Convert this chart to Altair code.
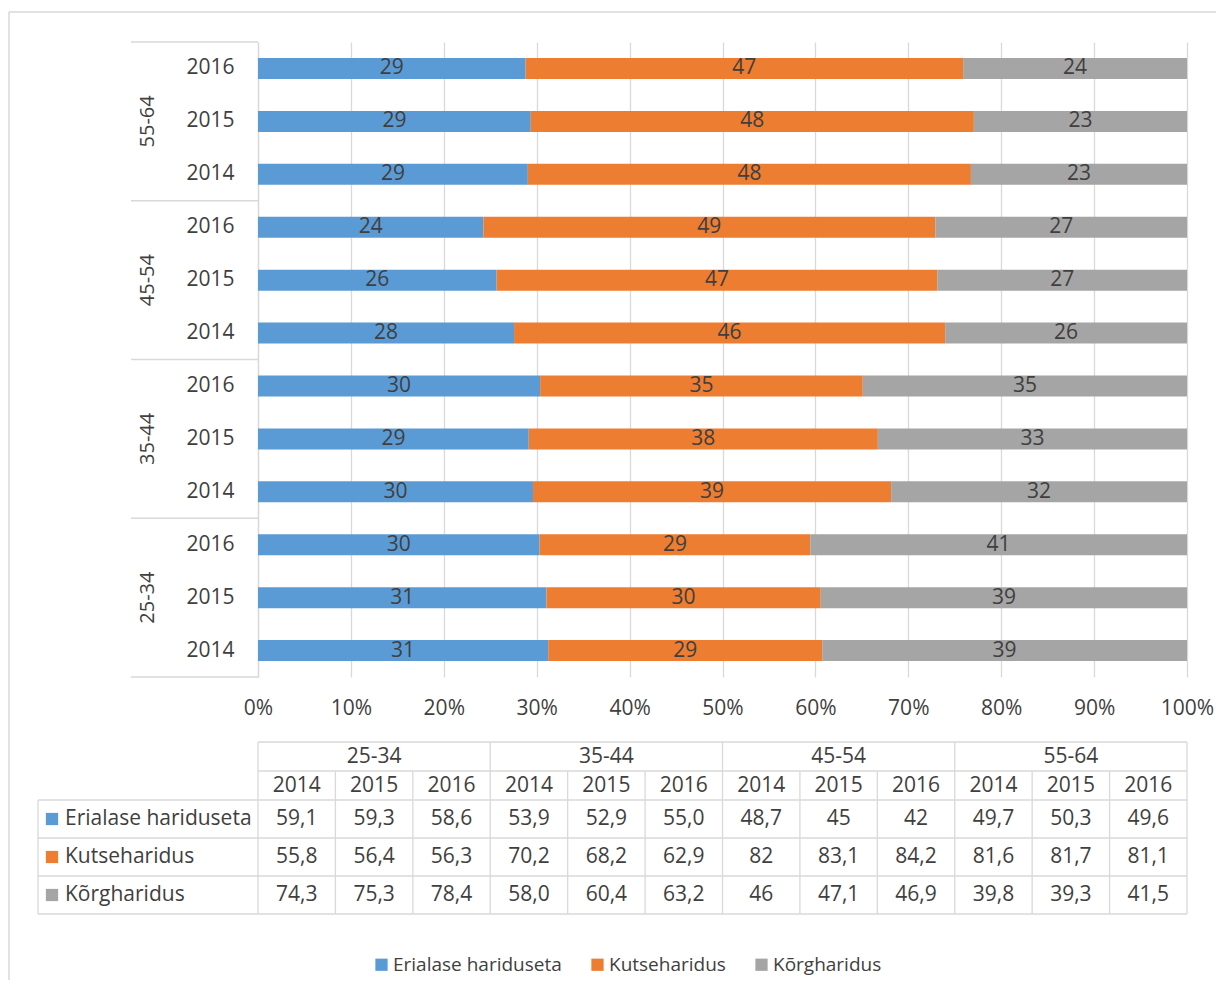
import altair as alt
import pandas as pd

# ---------------- data ----------------
groups = ["25-34", "35-44", "45-54", "55-64"]
years = ["2014", "2015", "2016"]
series = ["Erialase hariduseta", "Kutseharidus", "Kõrgharidus"]
colors = ["#5B9BD5", "#ED7D31", "#A5A5A5"]

erialase = ["59,1", "59,3", "58,6", "53,9", "52,9", "55,0", "48,7", "45", "42", "49,7", "50,3", "49,6"]
kutse = ["55,8", "56,4", "56,3", "70,2", "68,2", "62,9", "82", "83,1", "84,2", "81,6", "81,7", "81,1"]
korg = ["74,3", "75,3", "78,4", "58,0", "60,4", "63,2", "46", "47,1", "46,9", "39,8", "39,3", "41,5"]

x_ticks = [0, 0.1, 0.2, 0.3, 0.4, 0.5, 0.6, 0.7, 0.8, 0.9, 1.0]

# ---------------- styling ----------------
W, H = 929, 635
TXT = "#3F3F3F"
LINE = "#D9D9D9"
LW = 1.3
FS = 21

rows = []
for si, (s, vals) in enumerate(zip(series, [erialase, kutse, korg])):
    for ci, txt in enumerate(vals):
        g = groups[ci // len(years)]
        y = years[ci % len(years)]
        rows.append(dict(series=s, si=si, group=g, year=y, key=f"{g}|{y}", col=ci,
                         label=txt, value=float(txt.replace(",", "."))))
df = pd.DataFrame(rows)
NCOL = len(groups) * len(years)
key_order = [f"{g}|{y}" for g in reversed(groups) for y in reversed(years)]

color = alt.Color(
    "series:N",
    scale=alt.Scale(domain=series, range=colors),
    legend=alt.Legend(title=None, orient="none", legendX=114, legendY=913,
                      direction="horizontal", symbolType="square", symbolSize=150,
                      symbolStrokeWidth=0, labelFontSize=19, labelColor=TXT,
                      labelLimit=400, columnPadding=26, labelOffset=2, padding=0),
)

yscale = alt.Scale(domain=key_order, paddingInner=0, paddingOuter=0)

# ---------------- top chart ----------------
base = alt.Chart(df)
bars = base.mark_bar(size=21).encode(
    x=alt.X("value:Q", stack="normalize", scale=alt.Scale(domain=[0, 1]),
            axis=alt.Axis(title=None, format=".0%", values=x_ticks, labelFontSize=FS,
                          labelColor=TXT, labelPadding=20, labelFlush=False,
                          ticks=False, tickSize=0,
                          domain=False, grid=True, gridColor=LINE, gridWidth=LW)),
    y=alt.Y("key:N", scale=yscale,
            axis=alt.Axis(title=None, labelExpr="split(datum.value, '|')[1]",
                          labelFontSize=FS, labelColor=TXT, labelPadding=24,
                          ticks=False, tickSize=0, domainColor=LINE, domainWidth=LW,
                          grid=False)),
    color=color,
    order=alt.Order("si:Q"),
)

labels = (
    base.transform_joinaggregate(total="sum(value)", groupby=["key"])
    .transform_calculate(pct="datum.value / datum.total")
    .transform_window(cum="sum(pct)", groupby=["key"], sort=[alt.SortField("si")])
    .transform_calculate(mid="datum.cum - datum.pct / 2",
                         lbl="format(datum.pct * 100, '.0f')")
    .mark_text(fontSize=FS, color=TXT)
    .encode(x=alt.X("mid:Q"), y=alt.Y("key:N", scale=yscale), text="lbl:N")
)

gdf = pd.DataFrame({
    "group": groups,
    "mid": [f"{g}|{years[1]}" for g in groups],
    "top": [f"{g}|{years[-1]}" for g in groups],
    "bottom": [f"{g}|{years[0]}" for g in groups],
})
glabels = alt.Chart(gdf).mark_text(angle=270, fontSize=20, color=TXT).encode(
    x=alt.value(-110), y=alt.Y("mid:N", scale=yscale), text="group:N")
sep_top = alt.Chart(gdf).mark_rule(color=LINE, strokeWidth=LW).encode(
    x=alt.value(-127), x2=alt.value(0), y=alt.Y("top:N", scale=yscale, bandPosition=0))
sep_bot = alt.Chart(gdf.iloc[[0]]).mark_rule(color=LINE, strokeWidth=LW).encode(
    x=alt.value(-127), x2=alt.value(0), y=alt.Y("bottom:N", scale=yscale, bandPosition=1))

one = pd.DataFrame({"a": [0]})
frame_left = alt.Chart(one).mark_rule(color=LINE, strokeWidth=1.5).encode(
    x=alt.value(-249), y=alt.value(-30), y2=alt.value(938))
frame_top = alt.Chart(one).mark_rule(color=LINE, strokeWidth=1.5).encode(
    x=alt.value(-249), x2=alt.value(958), y=alt.value(-30))

top = alt.layer(frame_left, frame_top, bars, labels, glabels, sep_top, sep_bot).properties(
    width=W, height=H)

# ---------------- table ----------------
xs = alt.Scale(domain=[0, NCOL], nice=False, zero=False)
LEFT_U = -220 / (W / NCOL)

# header (2 rows)
yh = alt.Scale(domain=[0, 2], reverse=True, nice=False, zero=False)
hdr_group = (
    alt.Chart(df[(df.si == 0) & (df.year == years[1])])
    .transform_calculate(xc="datum.col + 0.5", yc="0.5")
    .mark_text(fontSize=FS, color=TXT)
    .encode(x=alt.X("xc:Q", scale=xs, axis=None), y=alt.Y("yc:Q", scale=yh, axis=None),
            text="group:N")
)
hdr_year = (
    alt.Chart(df[df.si == 0])
    .transform_calculate(xc="datum.col + 0.5", yc="1.5")
    .mark_text(fontSize=FS, color=TXT)
    .encode(x=alt.X("xc:Q", scale=xs, axis=None), y=alt.Y("yc:Q", scale=yh, axis=None),
            text="year:N")
)
edges = list(range(NCOL + 1))
hv = pd.DataFrame({
    "x": edges,
    "y0": [0 if e % len(years) == 0 else 1 for e in edges],
    "y1": [2] * len(edges),
})
hdr_v = alt.Chart(hv).mark_rule(color=LINE, strokeWidth=LW).encode(
    x=alt.X("x:Q", scale=xs, axis=None), y=alt.Y("y0:Q", scale=yh, axis=None), y2="y1:Q")
hh = pd.DataFrame({"y": [0, 1], "x0": [0, 0], "x1": [NCOL, NCOL]})
hdr_h = alt.Chart(hh).mark_rule(color=LINE, strokeWidth=LW).encode(
    x=alt.X("x0:Q", scale=xs, axis=None), x2="x1:Q", y=alt.Y("y:Q", scale=yh, axis=None))
header = alt.layer(hdr_v, hdr_h, hdr_group, hdr_year).properties(width=W, height=58)

# data (3 rows)
yd = alt.Scale(domain=[0, len(series)], reverse=True, nice=False, zero=False)
cells = (
    alt.Chart(df)
    .transform_calculate(xc="datum.col + 0.5", yc="datum.si + 0.5")
    .mark_text(fontSize=FS, color=TXT)
    .encode(x=alt.X("xc:Q", scale=xs, axis=None), y=alt.Y("yc:Q", scale=yd, axis=None),
            text="label:N")
)
sdf = pd.DataFrame({"series": series, "si": range(len(series))})
row_sq = (
    alt.Chart(sdf).transform_calculate(yc="datum.si + 0.5")
    .mark_square(size=150, opacity=1)
    .encode(x=alt.value(-206), y=alt.Y("yc:Q", scale=yd, axis=None), color=color)
)
row_txt = (
    alt.Chart(sdf).transform_calculate(yc="datum.si + 0.5")
    .mark_text(fontSize=FS, color=TXT, align="left")
    .encode(x=alt.value(-193), y=alt.Y("yc:Q", scale=yd, axis=None), text="series:N")
)
dv = pd.DataFrame({"x": [LEFT_U] + edges})
dv["y0"] = 0
dv["y1"] = len(series)
data_v = alt.Chart(dv).mark_rule(color=LINE, strokeWidth=LW).encode(
    x=alt.X("x:Q", scale=xs, axis=None), y=alt.Y("y0:Q", scale=yd, axis=None), y2="y1:Q")
dh = pd.DataFrame({"y": list(range(len(series) + 1))})
dh["x0"] = LEFT_U
dh["x1"] = NCOL
data_h = alt.Chart(dh).mark_rule(color=LINE, strokeWidth=LW).encode(
    x=alt.X("x0:Q", scale=xs, axis=None), x2="x1:Q", y=alt.Y("y:Q", scale=yd, axis=None))
datap = alt.layer(data_v, data_h, cells, row_sq, row_txt).properties(width=W, height=114)

table = alt.vconcat(header, datap, spacing=0, bounds="flush")

chart = (
    alt.vconcat(top, table, spacing=65, bounds="flush")
    .properties(padding={"left": 0, "top": 3, "right": 0, "bottom": 0})
    .configure(font="Open Sans")
    .configure_view(strokeWidth=0)
)

chart.save("out.html", embed_options={"renderer": "svg", "actions": False})
